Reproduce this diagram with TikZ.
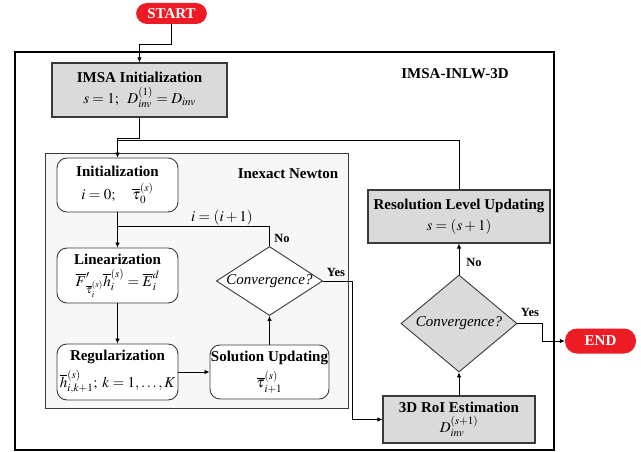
\documentclass[tikz,border=0pt]{standalone}
\usepackage{mathptmx}
\usepackage{fontspec}
\setmainfont{Liberation Serif}
\usetikzlibrary{arrows.meta,shapes.geometric,calc}
\definecolor{boxgray}{HTML}{DADADA}
\definecolor{pillred}{HTML}{ED1C24}
\definecolor{framegray}{HTML}{F7F7F7}
\definecolor{edge}{HTML}{3A3A3A}
\tikzset{
  txt/.style={font=\fontsize{15}{17}\selectfont},
  graybox/.style={txt,draw=edge,line width=1.1pt,fill=boxgray,align=center,inner sep=0pt},
  roundbox/.style={txt,draw=edge,line width=0.9pt,fill=white,rounded corners=10pt,align=center,inner sep=0pt},
  pill/.style={txt,fill=pillred,text=white,rounded corners=11pt,font=\fontsize{15}{17}\selectfont\bfseries,inner sep=0pt},
  decide/.style={txt,diamond,draw=edge,line width=0.9pt,inner sep=0pt,font=\fontsize{15}{17}\selectfont\itshape},
  arr/.style={draw=black,line width=0.8pt,-{Latex[length=5pt,width=4.5pt]}},
  conn/.style={draw=black,line width=0.8pt},
  lbl/.style={font=\fontsize{12.5}{14}\selectfont\bfseries,inner sep=0pt},
  ttl/.style={font=\fontsize{15}{17}\selectfont\bfseries,inner sep=0pt}
}
\begin{document}
\begin{tikzpicture}[x=1pt,y=-1pt]
\useasboundingbox (0,0) rectangle (641,452);
% frames
\draw[draw=black,line width=1.2pt,fill=white] (15,52) rectangle (554,450);
\draw[draw=edge,line width=1pt,fill=framegray] (45,154) rectangle (348,408);
\node[ttl] (maintitle) at (455,74) {IMSA-INLW-3D};
\node[ttl] (innertitle) at (288,174) {Inexact Newton};
% terminals
\node[pill,minimum width=71pt,minimum height=21pt] (start) at (171.5,13.5) {START};
\node[pill,minimum width=71pt,minimum height=25pt,rounded corners=12pt] (end) at (600.5,341) {END};
% boxes
\node[graybox,minimum width=175pt,minimum height=54pt] (imsa) at (139.5,90)
  {\textbf{IMSA Initialization}\\[4pt]$s=1;\;\; D_{inv}^{(1)}=D_{inv}$};
\node[roundbox,minimum width=121pt,minimum height=54pt] (init) at (117.5,185)
  {\textbf{Initialization}\\[6pt]$i=0;\quad \overline{\tau}_0^{(s)}$};
\node[roundbox,minimum width=121pt,minimum height=55pt] (lin) at (117.5,275.5)
  {\textbf{Linearization}\\[4pt]$\overline{F}'_{\overline{\tau}_i^{(s)}}\overline{h}_i^{(s)}=\overline{E}_i^{d}$};
\node[roundbox,minimum width=121pt,minimum height=56pt] (reg) at (117.5,372)
  {\textbf{Regularization}\\[5pt]$\overline{h}_{i,k+1}^{(s)};\; k=1,\ldots,K$};
\node[roundbox,minimum width=119pt,minimum height=54pt] (sol) at (269.5,372)
  {\textbf{Solution Updating}\\[6pt]$\overline{\tau}_{i+1}^{(s)}$};
\node[decide,fill=white,minimum width=105pt,minimum height=68pt,aspect=1.54] (conv1) at (269.5,281) {Convergence?};
\node[graybox,minimum width=182pt,minimum height=53pt] (res) at (459,216.5)
  {\textbf{Resolution Level Updating}\\[4pt]$s=(s+1)$};
\node[decide,fill=boxgray,minimum width=116pt,minimum height=97pt,aspect=1.2] (conv2) at (459,323.5) {Convergence?};
\node[graybox,minimum width=152pt,minimum height=47pt] (roi) at (459,419.5)
  {\textbf{3D RoI Estimation}\\[3pt]$D_{inv}^{(s+1)}$};
% connectors
\draw[arr] (start.south) -- ++(0,20.5) -| (imsa.north);
\draw[arr] (imsa.south) -- ++(0,21) -| (init.north);
\draw[conn] (res.north) |- ([yshift=17pt]init.north);
\draw[arr] (init.south) -- (lin.north);
\coordinate (j1) at (117.5,226);
\draw[conn] (conv1.north) |- (j1);
\draw[arr] (lin.south) -- (reg.north);
\draw[arr] (reg.east) -- (sol.west);
\draw[arr] (sol.north) -- (conv1.south);
\draw[arr] (conv1.east) -| ([xshift=-30pt]roi.west) -- (roi.west);
\draw[arr] (roi.north) -- (conv2.south);
\draw[arr] (conv2.north) -- (res.south);
\draw[arr] (conv2.east) -- ++(25,0) |- (end.west);
% labels
\node[txt,inner sep=0pt] (iinc) at (222,218) {$i=(i+1)$};
\node[lbl] (no1) at (282,238) {No};
\node[lbl] (yes1) at (336,272) {Yes};
\node[lbl] (no2) at (474,262) {No};
\node[lbl] (yes2) at (530,312) {Yes};
\end{tikzpicture}
\end{document}
